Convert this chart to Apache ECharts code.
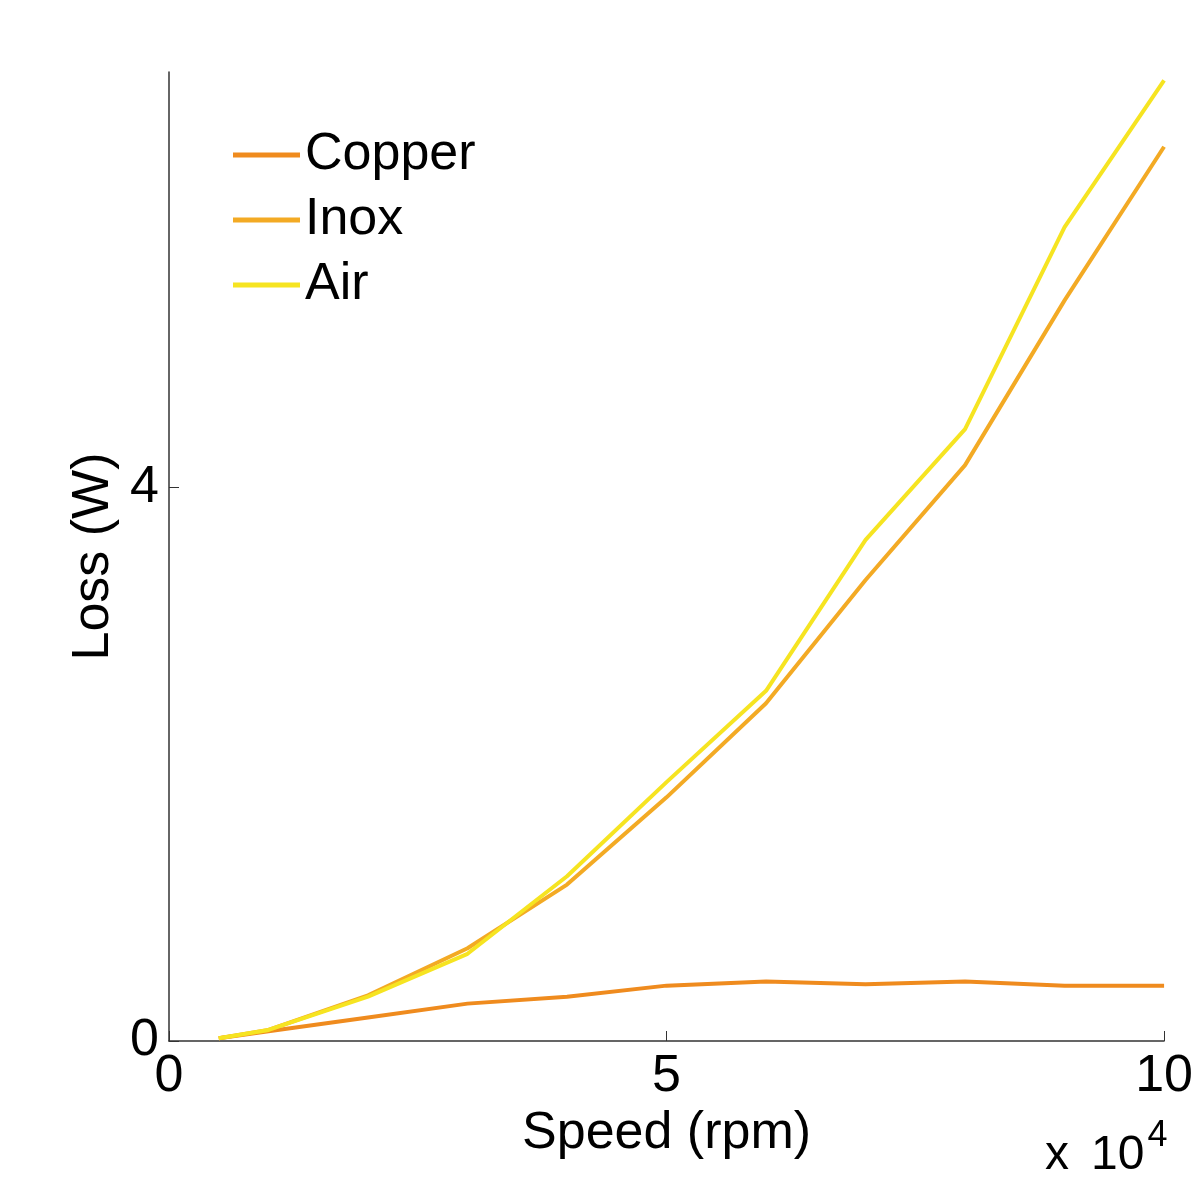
<!DOCTYPE html>
<html>
<head>
<meta charset="utf-8">
<script src="https://cdn.jsdelivr.net/npm/echarts@6/dist/echarts.min.js"></script>
<style>
  html, body { margin: 0; padding: 0; background: #fff; }
  #chart { width: 1196px; height: 1188px; }
</style>
</head>
<body>
<div id="chart"></div>
<script>
// speed in rpm, losses in W
const speed = [5000, 10000, 20000, 30000, 40000, 50000, 60000, 70000, 80000, 90000, 100000]
const copper = [0.02, 0.07, 0.17, 0.27, 0.32, 0.40, 0.43, 0.41, 0.43, 0.40, 0.40]
const inox = [0.02, 0.08, 0.33, 0.67, 1.13, 1.76, 2.44, 3.33, 4.16, 5.35, 6.46]
const air = [0.02, 0.08, 0.32, 0.63, 1.19, 1.87, 2.53, 3.62, 4.42, 5.88, 6.94]
const seriesNames = ['Copper', 'Inox', 'Air']
const yTicks = [0, 4]

const colors = {
  Copper: '#EF8B1E',
  Inox: '#F3AA24',
  Air: '#F6E421'
}
const font = 'Liberation Sans, Arial, sans-serif'

const toPairs = (vals) => speed.map((s, i) => [s, vals[i]])
const dataBySeries = { Copper: copper, Inox: inox, Air: air }

const chart = echarts.init(document.getElementById('chart'), null, { renderer: 'canvas' })

chart.setOption({
  backgroundColor: '#fff',
  animation: false,
  textStyle: { fontFamily: font },
  grid: { left: 169, right: 28, top: 72, bottom: 147, containLabel: false },
  legend: {
    orient: 'vertical',
    left: 228,
    top: 120,
    icon: 'rect',
    itemWidth: 67,
    itemHeight: 5,
    itemGap: 5,
    data: seriesNames,
    textStyle: { color: '#000', fontSize: 52, fontFamily: font, lineHeight: 60 }
  },
  xAxis: {
    type: 'value',
    min: 0,
    max: 100000,
    interval: 50000,
    name: 'Speed (rpm)',
    nameLocation: 'middle',
    nameGap: 57,
    nameTextStyle: { color: '#000', fontSize: 52, fontFamily: font },
    axisLine: { lineStyle: { color: '#333', width: 1.5 } },
    axisTick: { inside: true, length: 10, lineStyle: { color: '#333' } },
    axisLabel: {
      color: '#000',
      fontSize: 52,
      fontFamily: font,
      margin: 10,
      formatter: (v) => String(v / 10000)
    },
    splitLine: { show: false }
  },
  yAxis: {
    type: 'value',
    min: 0,
    max: 7,
    name: 'Loss (W)',
    nameLocation: 'middle',
    nameGap: 47,
    nameTextStyle: { color: '#000', fontSize: 52, fontFamily: font },
    axisLine: { show: true, lineStyle: { color: '#333', width: 1.5 } },
    axisTick: { show: true, inside: true, length: 10, customValues: yTicks, lineStyle: { color: '#333' } },
    axisLabel: { color: '#000', fontSize: 52, fontFamily: font, margin: 10, customValues: yTicks },
    splitLine: { show: false }
  },
  graphic: [
    {
      type: 'text',
      left: 1045,
      top: 1118,
      style: {
        text: '{a|x}{c|10}{b|4}',
        rich: {
          a: { fontSize: 48, fontFamily: font, fill: '#000', verticalAlign: 'bottom', padding: [0, 22, 0, 0] },
          c: { fontSize: 48, fontFamily: font, fill: '#000', verticalAlign: 'bottom' },
          b: { fontSize: 36, fontFamily: font, fill: '#000', verticalAlign: 'top', padding: [0, 0, 26, 3] }
        }
      }
    }
  ],
  series: seriesNames.map(name => ({
    name: name,
    type: 'line',
    data: toPairs(dataBySeries[name]),
    symbol: 'none',
    smooth: false,
    lineStyle: { width: 4, color: colors[name] },
    itemStyle: { color: colors[name] }
  }))
})
</script>
</body>
</html>
